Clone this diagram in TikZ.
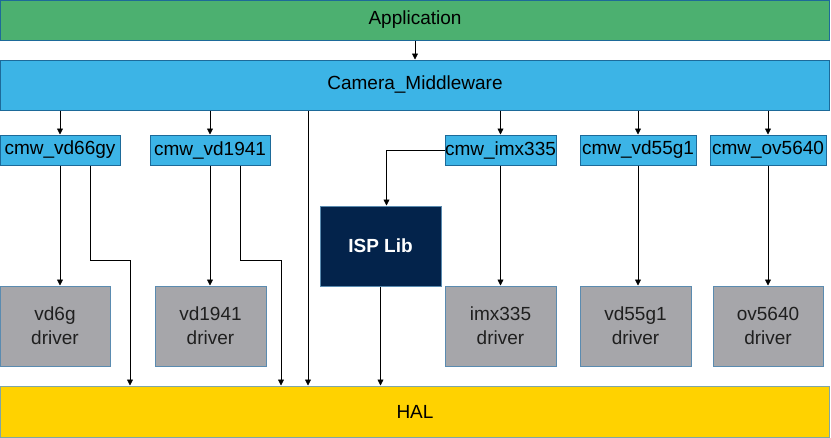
\documentclass[tikz,border=0pt]{standalone}
\usepackage{fontspec}
\setmainfont{Liberation Sans}
\usetikzlibrary{positioning}
\usetikzlibrary{arrows.meta}
\definecolor{appgreen}{HTML}{4CB070}
\definecolor{cmwblue}{HTML}{3CB4E6}
\definecolor{ispnavy}{HTML}{03234B}
\definecolor{drvgray}{HTML}{A6A6AA}
\definecolor{halyellow}{HTML}{FFD200}
\definecolor{edgeblue}{HTML}{1D6A99}
\definecolor{edgelight}{HTML}{5A8BB0}
\definecolor{edgehal}{HTML}{7FA6A6}

\begin{document}
\begin{tikzpicture}[x=1pt, y=-1pt,
layerbox/.style={rectangle, draw=edgeblue, line width=1pt, inner sep=0pt, font=\fontsize{19}{22}\selectfont},
cmwbox/.style={rectangle, draw=edgeblue, fill=cmwblue, line width=1pt, inner sep=0pt, minimum height=30pt, font=\fontsize{19}{22}\selectfont},
drvbox/.style={rectangle, draw=edgelight, fill=drvgray, line width=1pt, inner sep=0pt, minimum width=111pt, minimum height=80pt, align=center, font=\fontsize{19}{24}\selectfont, text=black!88},
ispbox/.style={rectangle, draw=edgelight, fill=ispnavy, line width=1pt, inner sep=0pt, minimum width=121pt, minimum height=80pt, text=white, font=\bfseries\fontsize{19}{22}\selectfont},
link/.style={-{Triangle[length=6pt, width=6pt]}, line width=0.8pt}]
\useasboundingbox (0,0) rectangle (831,437);

\node[layerbox, fill=appgreen, minimum width=829pt, minimum height=40pt] (app) at (415,20) {Application};
\node[layerbox, fill=cmwblue, minimum width=829pt, minimum height=50pt] (cmw) at (415,85) {Camera\_Middleware};
\node[layerbox, draw=edgehal, fill=halyellow, minimum width=829pt, minimum height=51pt] (hal) at (415,411.5) {HAL};

\node[cmwbox, minimum width=120pt] (cmwvdsixsix) at (60,150) {cmw\_vd66gy};
\node[cmwbox, minimum width=120pt] (cmwvdnineteen) at (210,150) {cmw\_vd1941};
\node[cmwbox, minimum width=111pt] (cmwimx) at (500.5,150) {cmw\_imx335};
\node[cmwbox, minimum width=116pt] (cmwvdfiftyfive) at (638,150) {cmw\_vd55g1};
\node[cmwbox, minimum width=116pt] (cmwov) at (768,150) {cmw\_ov5640};

\node[ispbox] (isplib) at (380.5,246) {ISP Lib};

\node[drvbox, minimum width=110pt] (drvvdsixsix) at (55,326) {vd6g\\driver};
\node[drvbox] (drvvdnineteen) at (210.5,326) {vd1941\\driver};
\node[drvbox] (drvimx) at (500.5,326) {imx335\\driver};
\node[drvbox] (drvvdfiftyfive) at (635.5,326) {vd55g1\\driver};
\node[drvbox, minimum width=110pt] (drvov) at (768,326) {ov5640\\driver};

\coordinate (bendsixsix) at (130,260);
\coordinate (bendnineteen) at (281,260);
\coordinate (direct) at (308,0);

\draw[link] (app.south) -- (cmw.north);
\foreach \n in {cmwvdsixsix, cmwvdnineteen, cmwimx, cmwvdfiftyfive, cmwov}
  \draw[link] (cmw.south -| \n.north) -- (\n.north);

\draw[link] (cmwvdsixsix.south) -- (cmwvdsixsix.south |- drvvdsixsix.north);
\draw[link] (cmwvdnineteen.south) -- (cmwvdnineteen.south |- drvvdnineteen.north);
\draw[link] (cmwimx.south) -- (cmwimx.south |- drvimx.north);
\draw[link] (cmwvdfiftyfive.south) -- (cmwvdfiftyfive.south |- drvvdfiftyfive.north);
\draw[link] (cmwov.south) -- (cmwov.south |- drvov.north);

\draw[link] (cmwvdsixsix.south) ++(30,0) |- (bendsixsix) -- (bendsixsix |- hal.north);
\draw[link] (cmwvdnineteen.south) ++(30,0) |- (bendnineteen) -- (bendnineteen |- hal.north);
\draw[link] (cmw.south -| direct) -- (hal.north -| direct);
\draw[link] (cmwimx.west) -| ([xshift=6pt]isplib.north);
\draw[link] (isplib.south) -- (isplib.south |- hal.north);
\end{tikzpicture}
\end{document}
